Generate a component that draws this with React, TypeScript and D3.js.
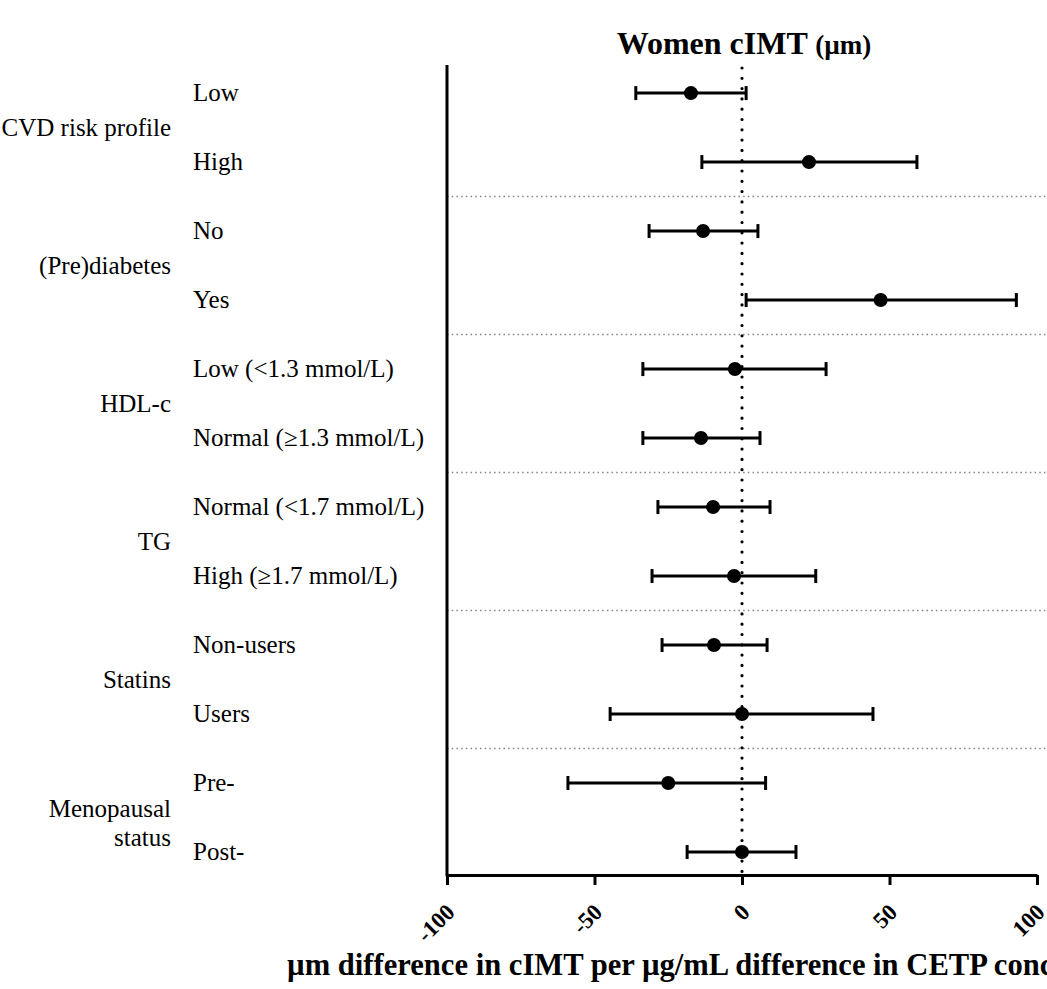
import * as d3 from 'd3';
import * as React from 'react';

// subgroup rows, top to bottom
const groupLabels = [['CVD risk profile'], ['(Pre)diabetes'], ['HDL-c'], ['TG'], ['Statins'], ['Menopausal', 'status']];
const rowLabels = [
  'Low',
  'High',
  'No',
  'Yes',
  'Low (<1.3 mmol/L)',
  'Normal (≥1.3 mmol/L)',
  'Normal (<1.7 mmol/L)',
  'High (≥1.7 mmol/L)',
  'Non-users',
  'Users',
  'Pre-',
  'Post-',
];
const rowGroup = [0, 0, 1, 1, 2, 2, 3, 3, 4, 4, 5, 5];
const estimate = [-17.3, 22.7, -13.2, 47, -2.4, -13.9, -9.8, -2.7, -9.5, 0, -25, 0];
const lowerCI = [-36, -13.6, -31.5, 1.4, -33.6, -33.6, -28.5, -30.5, -27.1, -44.7, -59, -18.6];
const upperCI = [1.4, 59.3, 5.4, 93, 28.5, 6.1, 9.5, 25, 8.5, 44.4, 8, 18.3];
const xTicks = [-100, -50, 0, 50, 100];

const W = 1047;
const H = 989;
const serif = "'Liberation Serif', 'Times New Roman', serif";

const ForestPlot = () => {
  const ref = React.useRef<SVGSVGElement | null>(null);

  React.useEffect(() => {
    if (!ref.current) {
      return;
    }
    document.body.style.margin = '0';

    const plot = { left: 447, right: 1037, top: 65, bottom: 875 };

    const x = d3.scaleLinear().domain([-100, 100]).range([plot.left, plot.right]);
    const y = d3
      .scalePoint<number>()
      .domain(d3.range(rowLabels.length))
      .range([plot.top, plot.bottom])
      .padding(0.37)
      .align(0.55);

    const svg = d3.select(ref.current);
    svg.selectAll('*').remove();

    // title
    const title = svg
      .append('text')
      .attr('x', x(0) + 2)
      .attr('y', 54)
      .attr('text-anchor', 'middle')
      .style('font-family', serif)
      .style('font-weight', 'bold')
      .style('font-size', '32px');
    title.append('tspan').text('Women cIMT ');
    title.append('tspan').style('font-size', '27px').text('(µm)');

    // group separators (midway between groups)
    const seps = d3.range(1, groupLabels.length).map((g) => {
      const last = rowGroup.lastIndexOf(g - 1);
      const first = rowGroup.indexOf(g);
      return ((y(last) as number) + (y(first) as number)) / 2;
    });
    svg
      .append('g')
      .selectAll('line')
      .data(seps)
      .enter()
      .append('line')
      .attr('x1', plot.left)
      .attr('x2', W)
      .attr('y1', (d) => d)
      .attr('y2', (d) => d)
      .style('stroke', '#8a8a8a')
      .style('stroke-width', 1.5)
      .style('stroke-dasharray', '1.6 3.1');

    // zero line
    svg
      .append('line')
      .attr('x1', x(0))
      .attr('x2', x(0))
      .attr('y1', plot.top + 3)
      .attr('y2', plot.bottom)
      .style('stroke', '#000')
      .style('stroke-width', 3.2)
      .style('stroke-linecap', 'round')
      .style('stroke-dasharray', '0 10.3');

    // error bars
    const rows = svg
      .append('g')
      .selectAll('g')
      .data(d3.range(rowLabels.length))
      .enter()
      .append('g')
      .attr('transform', (i) => `translate(0,${y(i)})`);

    rows
      .append('line')
      .attr('x1', (i) => x(lowerCI[i]))
      .attr('x2', (i) => x(upperCI[i]))
      .style('stroke', '#000')
      .style('stroke-width', 3);

    rows
      .selectAll('.cap')
      .data((i) => [lowerCI[i], upperCI[i]])
      .enter()
      .append('line')
      .attr('class', 'cap')
      .attr('x1', (d) => x(d))
      .attr('x2', (d) => x(d))
      .attr('y1', -7)
      .attr('y2', 7)
      .style('stroke', '#000')
      .style('stroke-width', 3);

    rows
      .append('circle')
      .attr('cx', (i) => x(estimate[i]))
      .attr('r', 7)
      .style('fill', '#000');

    // row labels
    svg
      .append('g')
      .selectAll('text')
      .data(rowLabels)
      .enter()
      .append('text')
      .attr('x', 193)
      .attr('y', (d, i) => (y(i) as number) + 8)
      .style('font-family', serif)
      .style('font-size', '25px')
      .text((d) => d);

    // group labels, centred on their rows
    const gl = svg
      .append('g')
      .selectAll('text')
      .data(groupLabels)
      .enter()
      .append('text')
      .attr('text-anchor', 'end')
      .style('font-family', serif)
      .style('font-size', '25px')
      .attr('transform', (d, g) => {
        const ys = rowGroup.map((rg, i) => (rg === g ? (y(i) as number) : NaN)).filter((v) => !isNaN(v));
        const mid = d3.mean(ys) as number;
        return `translate(171,${mid + 8 - ((d.length - 1) * 29) / 2 + (d.length - 1) * 6})`;
      });
    gl.selectAll('tspan')
      .data((d) => d)
      .enter()
      .append('tspan')
      .attr('x', 0)
      .attr('dy', (d, i) => (i === 0 ? 0 : 29))
      .text((d) => d);

    // y axis line
    svg
      .append('line')
      .attr('x1', plot.left)
      .attr('x2', plot.left)
      .attr('y1', plot.top)
      .attr('y2', plot.bottom + 1.5)
      .style('stroke', '#000')
      .style('stroke-width', 3);

    // x axis
    const xAxis = svg
      .append('g')
      .attr('transform', `translate(0,${plot.bottom})`)
      .call(
        d3
          .axisBottom(x)
          .tickValues(xTicks)
          .tickSize(10)
          .tickSizeOuter(0)
          .tickFormat((d) => String(d))
      );
    xAxis.select('.domain').style('stroke-width', 3);
    xAxis.selectAll('.tick line').style('stroke-width', 3);
    xAxis
      .selectAll('.tick text')
      .attr('x', 0)
      .attr('y', 0)
      .attr('dy', '0.71em')
      .attr('text-anchor', 'end')
      .attr('transform', 'translate(-3,27) rotate(-45)')
      .style('font-family', serif)
      .style('font-weight', 'bold')
      .style('font-size', '23px')
      .style('fill', '#000');

    // x axis title
    svg
      .append('text')
      .attr('x', 287)
      .attr('y', 975)
      .style('font-family', serif)
      .style('font-weight', 'bold')
      .style('font-size', '30.6px')
      .text('µm difference in cIMT per µg/mL difference in CETP concentration');
  }, []);

  return <svg ref={ref} width={W} height={H} style={{ display: 'block', background: '#fff' }} />;
};

export default function App() {
  return <ForestPlot />;
}
